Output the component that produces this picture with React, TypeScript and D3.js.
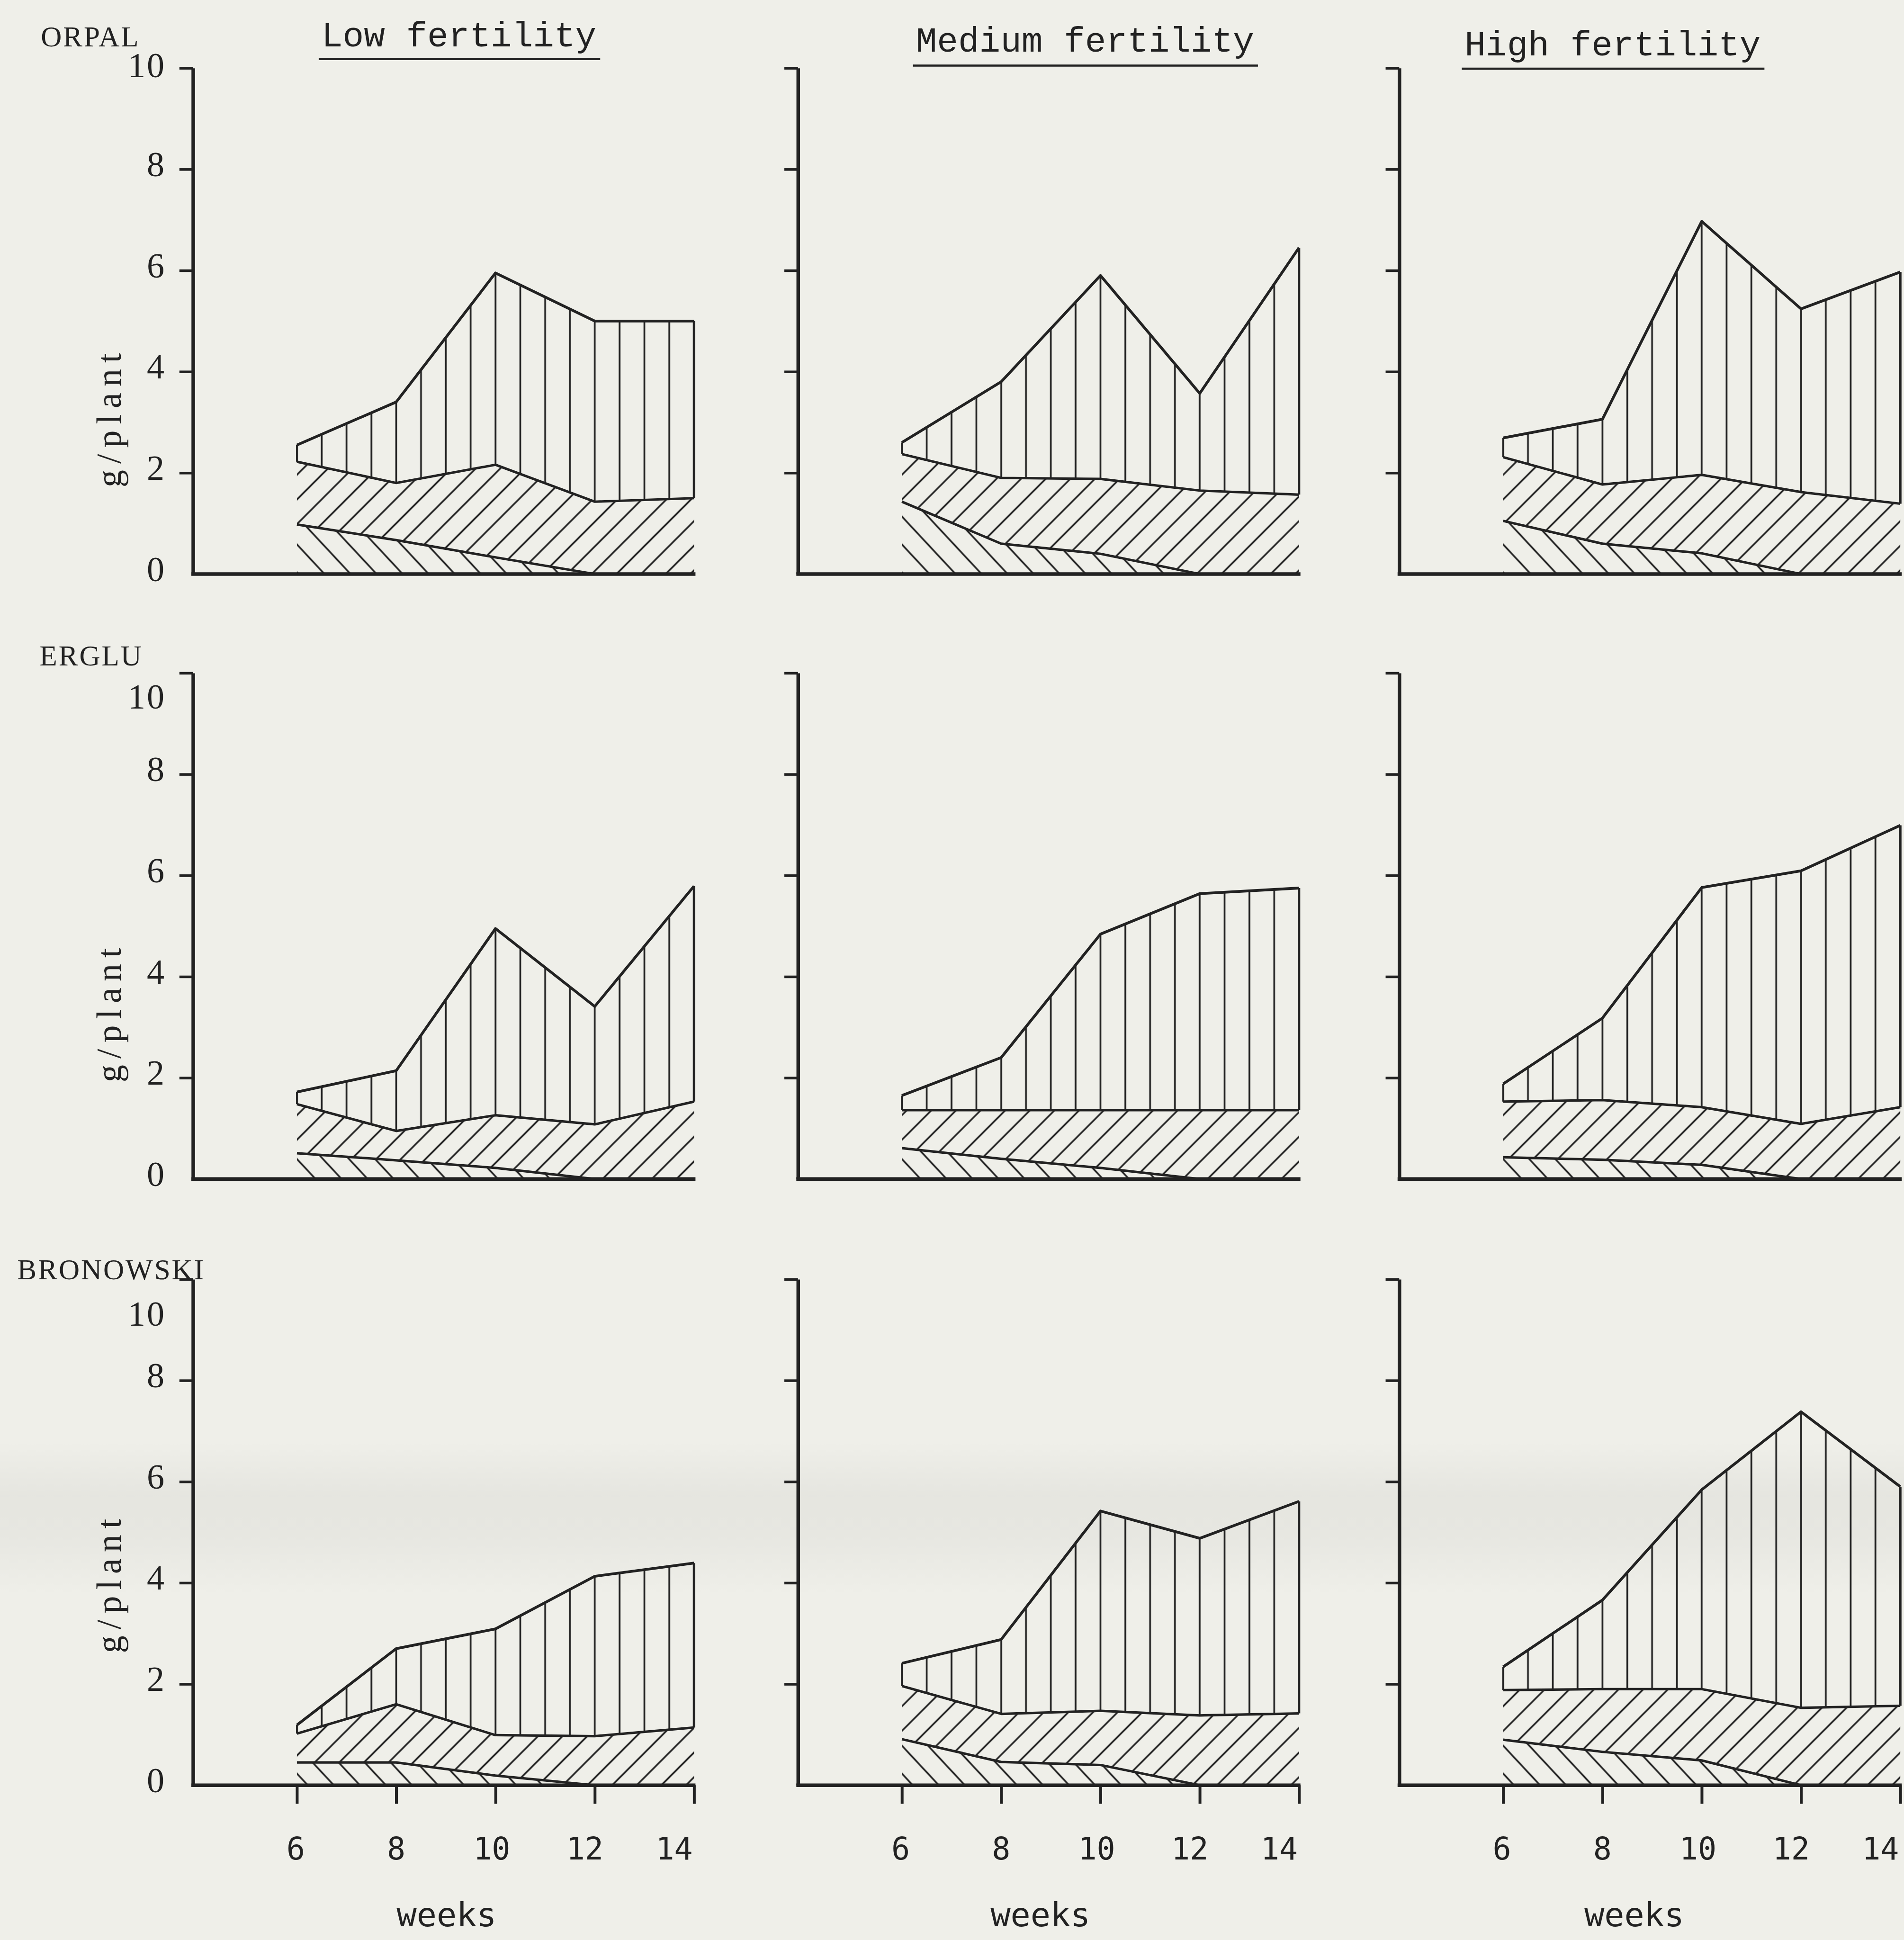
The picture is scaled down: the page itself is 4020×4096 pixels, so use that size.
import React, { useEffect, useRef } from 'react';
import * as d3 from 'd3';

// weeks after sowing
const weeks = [6, 8, 10, 12, 14];
const cultivars = ['ORPAL', 'ERGLU', 'BRONOWSKI'];
const fertilityLevels = ['Low fertility', 'Medium fertility', 'High fertility'];
const yTickValues = [2, 4, 6, 8, 10];
const yTickLabels = [0, 2, 4, 6, 8, 10];

// cumulative g/plant at weeks 6..14
// Bot = top of \\\ layer, Mid = top of /// layer, Top = total (||| layer)
const orpalLowBot = [0.98, 0.67, 0.33, 0, 0];
const orpalLowMid = [2.22, 1.8, 2.16, 1.43, 1.5];
const orpalLowTop = [2.55, 3.4, 5.95, 5.0, 5.0];
const orpalMedBot = [1.43, 0.6, 0.4, 0, 0];
const orpalMedMid = [2.37, 1.9, 1.88, 1.65, 1.57];
const orpalMedTop = [2.6, 3.8, 5.9, 3.57, 6.45];
const orpalHighBot = [1.05, 0.6, 0.41, 0, 0];
const orpalHighMid = [2.31, 1.77, 1.96, 1.62, 1.39];
const orpalHighTop = [2.69, 3.06, 6.97, 5.24, 5.97];

const ergluLowBot = [0.51, 0.37, 0.22, 0, 0];
const ergluLowMid = [1.48, 0.95, 1.26, 1.08, 1.53];
const ergluLowTop = [1.72, 2.14, 4.95, 3.41, 5.79];
const ergluMedBot = [0.61, 0.4, 0.22, 0, 0];
const ergluMedMid = [1.36, 1.36, 1.36, 1.36, 1.36];
const ergluMedTop = [1.65, 2.4, 4.84, 5.64, 5.75];
const ergluHighBot = [0.43, 0.38, 0.28, 0, 0];
const ergluHighMid = [1.53, 1.56, 1.42, 1.09, 1.42];
const ergluHighTop = [1.88, 3.18, 5.76, 6.09, 6.99];

const bronLowBot = [0.45, 0.45, 0.19, 0, 0];
const bronLowMid = [1.02, 1.6, 0.99, 0.97, 1.14];
const bronLowTop = [1.19, 2.7, 3.09, 4.13, 4.39];
const bronMedBot = [0.91, 0.46, 0.4, 0, 0];
const bronMedMid = [1.96, 1.41, 1.47, 1.38, 1.42];
const bronMedTop = [2.41, 2.88, 5.42, 4.88, 5.61];
const bronHighBot = [0.9, 0.66, 0.49, 0, 0];
const bronHighMid = [1.88, 1.9, 1.9, 1.53, 1.57];
const bronHighTop = [2.34, 3.66, 5.84, 7.38, 5.9];

const panels = [
  [
    { bot: orpalLowBot, mid: orpalLowMid, top: orpalLowTop },
    { bot: orpalMedBot, mid: orpalMedMid, top: orpalMedTop },
    { bot: orpalHighBot, mid: orpalHighMid, top: orpalHighTop },
  ],
  [
    { bot: ergluLowBot, mid: ergluLowMid, top: ergluLowTop },
    { bot: ergluMedBot, mid: ergluMedMid, top: ergluMedTop },
    { bot: ergluHighBot, mid: ergluHighMid, top: ergluHighTop },
  ],
  [
    { bot: bronLowBot, mid: bronLowMid, top: bronLowTop },
    { bot: bronMedBot, mid: bronMedMid, top: bronMedTop },
    { bot: bronHighBot, mid: bronHighMid, top: bronHighTop },
  ],
];

// layout, measured on a 1539 px wide copy and scaled up
const W = 4020;
const H = 4096;
const K = W / 1539;
const PAPER = '#efefe9';
const INK = '#222222';

const colX = [156, 645, 1131].map((v) => v * K);
const rowBase = [464, 953, 1443].map((v) => v * K);
const PLOT_H = 409 * K;
const X6 = 84 * K;
const X14 = 405 * K;
const TICK = 11 * K;

const cultivarPos = [[33, 37.5], [32, 538], [14, 1034]];
const titleCx = [371, 877, 1303.5];
const titleBase = [37.6, 41.7, 44.7];
const titleRule = [47.8, 53, 55.5];
const tenShift = [-2, 19, 28];
const yLabelAt = [3.1, 3.3, 4.0];
const xLabelShift = [-1, 0, -3, -8, -16];
const weeksOffset = [205, 196, 190];

export default function App() {
  const svgRef = useRef<SVGSVGElement>(null);

  useEffect(() => {
    const svg = d3.select(svgRef.current);
    svg.selectAll('*').remove();

    const defs = svg.append('defs');

    // paper, with the faint grey band the copier left across the bottom row
    svg.append('rect').attr('width', W).attr('height', H).attr('fill', PAPER);
    const band = defs.append('linearGradient')
      .attr('id', 'scan-band')
      .attr('x1', 0).attr('x2', 0).attr('y1', 0).attr('y2', 1);
    band.append('stop').attr('offset', 0).attr('stop-color', '#000').attr('stop-opacity', 0);
    band.append('stop').attr('offset', 0.35).attr('stop-color', '#000').attr('stop-opacity', 0.04);
    band.append('stop').attr('offset', 0.6).attr('stop-color', '#000').attr('stop-opacity', 0.035);
    band.append('stop').attr('offset', 1).attr('stop-color', '#000').attr('stop-opacity', 0);
    svg.append('rect')
      .attr('x', 0).attr('width', W)
      .attr('y', 1165 * K).attr('height', 125 * K)
      .attr('fill', 'url(#scan-band)');

    const x = d3.scaleLinear().domain([6, 14]).range([X6, X14]);
    const step = x(6.5) - x(6);
    const hatchW = 3.7;

    // hatch patterns
    const pv = defs.append('pattern')
      .attr('id', 'hatch-v')
      .attr('patternUnits', 'userSpaceOnUse')
      .attr('x', x(6) - step / 2)
      .attr('y', 0)
      .attr('width', step)
      .attr('height', 100);
    pv.append('line')
      .attr('x1', step / 2).attr('x2', step / 2)
      .attr('y1', -1).attr('y2', 101)
      .attr('stroke', INK).attr('stroke-width', hatchW);

    const diag = (id: string, size: number, angle: number) => {
      const p = defs.append('pattern')
        .attr('id', id)
        .attr('patternUnits', 'userSpaceOnUse')
        .attr('width', size)
        .attr('height', size)
        .attr('patternTransform', `rotate(${angle})`);
      p.append('line')
        .attr('x1', size / 2).attr('x2', size / 2)
        .attr('y1', -1).attr('y2', size + 1)
        .attr('stroke', INK).attr('stroke-width', hatchW);
    };
    diag('hatch-fwd', 52 * Math.sin((45 * Math.PI) / 180), 45);
    diag('hatch-back', 55 * Math.sin((47 * Math.PI) / 180), -43);

    cultivars.forEach((name, r) => {
      const y = d3.scaleLinear().domain([0, 10]).range([rowBase[r], rowBase[r] - PLOT_H]);

      svg.append('text')
        .attr('x', cultivarPos[r][0] * K)
        .attr('y', cultivarPos[r][1] * K)
        .attr('font-family', '"Liberation Serif", serif')
        .attr('font-size', 61)
        .attr('letter-spacing', 3)
        .attr('fill', INK)
        .text(name);

      svg.append('text')
        .attr('transform', `translate(${88 * K},${y(yLabelAt[r])}) rotate(-90)`)
        .attr('text-anchor', 'middle')
        .attr('dominant-baseline', 'central')
        .attr('font-family', '"Liberation Serif", serif')
        .attr('font-size', 74)
        .attr('letter-spacing', 13)
        .attr('fill', INK)
        .text('g/plant');

      fertilityLevels.forEach((level, c) => {
        const d = panels[r][c];
        const pts = weeks.map((w, i) => ({ w, bot: d.bot[i], mid: d.mid[i], top: d.top[i] }));
        const g = svg.append('g').attr('transform', `translate(${colX[c]},0)`);

        const layer = (lo: (p: any) => number, hi: (p: any) => number) =>
          d3.area<any>().x((p) => x(p.w)).y0((p) => y(lo(p))).y1((p) => y(hi(p)));

        g.append('path').datum(pts)
          .attr('d', layer(() => 0, (p) => p.bot))
          .attr('fill', 'url(#hatch-back)');
        g.append('path').datum(pts)
          .attr('d', layer((p) => p.bot, (p) => p.mid))
          .attr('fill', 'url(#hatch-fwd)');
        g.append('path').datum(pts)
          .attr('d', layer((p) => p.mid, (p) => p.top))
          .attr('fill', 'url(#hatch-v)');

        (['bot', 'mid', 'top'] as const).forEach((k) => {
          g.append('path').datum(pts)
            .attr('d', d3.line<any>().x((p) => x(p.w)).y((p) => y(p[k])))
            .attr('fill', 'none')
            .attr('stroke', INK)
            .attr('stroke-width', k === 'top' ? 5.8 : 5.2)
            .attr('stroke-linejoin', 'round');
        });

        // ends of the vertical-hatched layer
        [0, weeks.length - 1].forEach((i) => {
          g.append('line')
            .attr('x1', x(weeks[i])).attr('x2', x(weeks[i]))
            .attr('y1', y(d.mid[i])).attr('y2', y(d.top[i]))
            .attr('stroke', INK)
            .attr('stroke-width', i === 0 ? hatchW : 5.2);
        });

        // y axis
        const yAxis = g.append('g').call(
          d3.axisLeft(y).tickValues(yTickValues).tickSize(TICK).tickSizeOuter(0).tickFormat(() => '')
        );
        yAxis.select('.domain').attr('stroke', INK).attr('stroke-width', 7.5);
        yAxis.selectAll('.tick line').attr('stroke', INK).attr('stroke-width', 5.5);

        // base line
        g.append('line')
          .attr('x1', -3.5).attr('x2', X14 + 3)
          .attr('y1', y(0)).attr('y2', y(0))
          .attr('stroke', INK)
          .attr('stroke-width', 7.5);

        if (c === 0) {
          g.selectAll('text.ylab')
            .data(yTickLabels)
            .join('text')
            .attr('class', 'ylab')
            .attr('x', -22 * K)
            .attr('y', (v) => y(v) + (v === 10 ? tenShift[r] * K : -4 * K))
            .attr('text-anchor', 'end')
            .attr('dominant-baseline', 'central')
            .attr('font-family', '"Liberation Serif", serif')
            .attr('font-size', 74)
            .attr('letter-spacing', 3)
            .attr('fill', INK)
            .text((v) => String(v));
        }

        if (r === 0) {
          const fs = 74.4;
          const half = (level.length * 0.6 * fs) / 2;
          svg.append('text')
            .attr('x', titleCx[c] * K)
            .attr('y', titleBase[c] * K)
            .attr('text-anchor', 'middle')
            .attr('font-family', '"Liberation Mono", monospace')
            .attr('font-size', fs)
            .attr('fill', INK)
            .text(level);
          svg.append('line')
            .attr('x1', titleCx[c] * K - half - 6)
            .attr('x2', titleCx[c] * K + half + 8)
            .attr('y1', titleRule[c] * K)
            .attr('y2', titleRule[c] * K)
            .attr('stroke', INK)
            .attr('stroke-width', 4.5);
        }

        if (r === cultivars.length - 1) {
          const xAxis = g.append('g')
            .attr('transform', `translate(0,${y(0)})`)
            .call(d3.axisBottom(x).tickValues(weeks).tickSize(15 * K).tickFormat(() => ''));
          xAxis.select('.domain').remove();
          xAxis.selectAll('.tick line').attr('stroke', INK).attr('stroke-width', 6);

          g.selectAll('text.xlab')
            .data(weeks)
            .join('text')
            .attr('class', 'xlab')
            .attr('x', (w, i) => x(w) + xLabelShift[i] * K)
            .attr('y', 1503 * K)
            .attr('text-anchor', 'middle')
            .attr('font-family', '"DejaVu Sans Mono", monospace')
            .attr('font-size', 65)
            .attr('fill', INK)
            .text((w) => String(w));

          g.append('text')
            .attr('x', weeksOffset[c] * K)
            .attr('y', 1557 * K)
            .attr('text-anchor', 'middle')
            .attr('font-family', '"DejaVu Sans Mono", monospace')
            .attr('font-size', 70)
            .attr('fill', INK)
            .text('weeks');
        }
      });
    });
  }, []);

  return (
    <svg
      ref={svgRef}
      width={W}
      height={H}
      style={{ position: 'absolute', left: 0, top: 0, display: 'block' }}
    />
  );
}
